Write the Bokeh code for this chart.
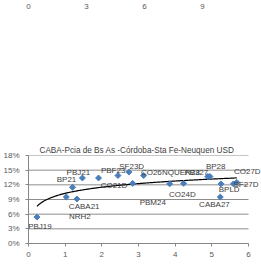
import numpy as np
from bokeh.plotting import figure
from bokeh.models import (ColumnDataSource, Label, Range1d, FixedTicker,
                          PrintfTickFormatter)
from bokeh.layouts import column
from bokeh.embed import file_html
from bokeh.resources import INLINE

# ---- data ----
top_ticks = [0, 3, 6, 9]

bond_names = ["PBJ19", "NRH2", "BP21", "CABA21", "PBJ21", "PBF23", "CO21D",
              "SF23D", "CO26", "NQUEN28", "PBM24", "CO24D", "PBJ27", "BP28",
              "CABA27", "BPLD", "SF27D", "CO27D"]
duration = [0.23, 1.03, 1.20, 1.32, 1.47, 1.91, 2.44, 2.74, 2.84, 3.14,
            3.85, 4.23, 4.89, 4.95, 5.23, 5.25, 5.59, 5.68]
yield_pct = [5.4, 9.5, 11.5, 9.1, 13.4, 13.4, 13.9, 14.6, 12.3, 13.9,
             12.2, 12.3, 13.7, 13.7, 9.5, 12.2, 12.2, 12.5]

x_ticks = [0, 1, 2, 3, 4, 5, 6]
y_ticks = [0, 3, 6, 9, 12, 15, 18]

# ---- label placement (screen px: right, down) ----
label_dx = [3, 13.5, -6, 7.3, -4, 14.6, -4, 2.7, 18.7, 37.3,
            -16.9, -1.2, -11.5, 5.7, -5.8, 8.2, 12.5, 10.5]
label_dy = [9, 19.3, -7.4, 7.7, -5, -7, 9.7, -5.7, -11, -3.3,
            18.4, 11.6, -4.3, -10, 7.6, 5.7, 0.7, -11]

FONT = "Liberation Sans"
TXT = "#404040"
AX = "#868686"
PX_PER_UNIT = 220 / 6          # main plot: 6 units over 220 px
FRAME_W = 234

# ---- top strip (axis of a chart above) ----
top = figure(width=261, height=20, x_range=Range1d(0, 220 / 19.5),
             y_range=Range1d(0, 1), output_backend="svg", toolbar_location=None,
             x_axis_location="above", min_border_left=26, min_border_right=15,
             min_border_top=0, min_border_bottom=0)
top.yaxis.visible = False
top.grid.visible = False
top.outline_line_color = None
top.xaxis.ticker = FixedTicker(ticks=top_ticks)
top.xaxis.axis_line_color = None
top.xaxis.major_tick_line_color = None
top.xaxis.minor_tick_line_color = None
top.xaxis.major_label_standoff = 0
top.xaxis.major_label_text_font = FONT
top.xaxis.major_label_text_font_size = "8px"
top.xaxis.major_label_text_color = "#595959"

# ---- main chart (frame extends right so data labels are not clipped) ----
p = figure(frame_width=FRAME_W, frame_height=88,
           x_range=Range1d(0, FRAME_W / PX_PER_UNIT), y_range=Range1d(0, 18),
           output_backend="svg", toolbar_location=None,
           title="CABA-Pcia de Bs As -Córdoba-Sta  Fe-Neuquen USD",
           min_border_left=27, min_border_right=0, min_border_top=135,
           min_border_bottom=17)
p.title.align = "left"
p.title.offset = 11
p.title.text_font = FONT
p.title.text_font_size = "8.2px"
p.title.text_font_style = "normal"
p.title.text_color = TXT
p.title.standoff = 2
p.outline_line_color = None
p.grid.visible = False

# horizontal gridlines, spanning the x axis only
p.segment(x0=[x_ticks[0]] * len(y_ticks), x1=[x_ticks[-1]] * len(y_ticks),
          y0=y_ticks, y1=y_ticks, line_color="#8c8c8c", line_width=1)

p.xaxis.ticker = FixedTicker(ticks=x_ticks)
p.xaxis.bounds = (x_ticks[0], x_ticks[-1])
p.yaxis.ticker = FixedTicker(ticks=y_ticks)
p.yaxis.formatter = PrintfTickFormatter(format="%d%%")
for ax in (p.xaxis, p.yaxis):
    ax.axis_line_color = AX
    ax.major_tick_line_color = AX
    ax.major_tick_out = 3
    ax.major_tick_in = 0
    ax.minor_tick_line_color = None
    ax.major_label_text_font = FONT
    ax.major_label_text_font_size = "8px"
    ax.major_label_text_color = "#595959"
p.yaxis.major_label_standoff = 6
p.xaxis.major_label_standoff = 5

src = ColumnDataSource(dict(x=duration, y=yield_pct, name=bond_names))

# logarithmic trend line fitted to the data
b, a = np.polyfit(np.log(duration), yield_pct, 1)
xs = np.linspace(min(duration), max(duration), 200)
p.line(xs, a + b * np.log(xs), line_color="black", line_width=1.2)

p.scatter("x", "y", source=src, marker="square", angle=np.pi / 4, size=4.2,
          fill_color="#4a7ebb", line_color="#4a7ebb")

# data labels
for xv, yv, name, dx, dy in zip(duration, yield_pct, bond_names,
                                label_dx, label_dy):
    p.add_layout(Label(x=xv, y=yv, text=name, x_offset=dx, y_offset=-dy,
                       text_align="center", text_baseline="middle",
                       text_font=FONT, text_font_size="8px",
                       text_color=TXT))

layout = column(top, p, spacing=0, margin=(0, 0, 0, 0))

open("out.html", "w").write(file_html(layout, INLINE))
